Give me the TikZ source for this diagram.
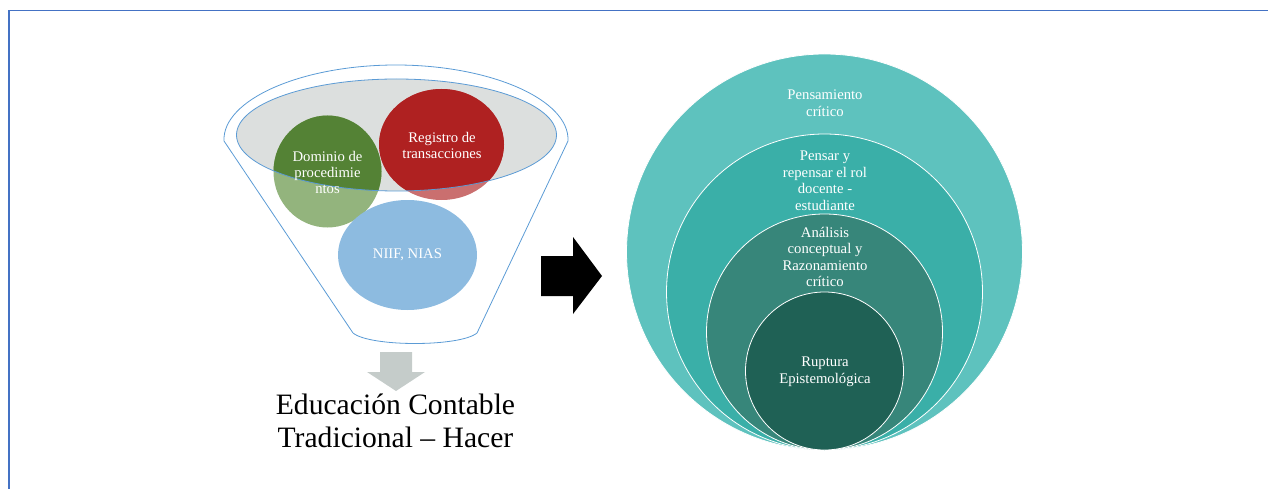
\documentclass[tikz,border=0pt]{standalone}
\usepackage{fontspec}
\setmainfont{Liberation Serif}
\usetikzlibrary{shapes.geometric}
\definecolor{framec}{RGB}{68,114,196}
\definecolor{funnelc}{RGB}{91,155,213}
\definecolor{greyfill}{RGB}{220,223,222}
\definecolor{gdark}{RGB}{84,130,53}
\definecolor{glight}{RGB}{147,180,125}
\definecolor{rdark}{RGB}{175,33,33}
\definecolor{rlight}{RGB}{202,111,111}
\definecolor{blight}{RGB}{141,187,224}
\definecolor{arrowgrey}{RGB}{197,204,202}
\definecolor{cA}{RGB}{94,194,190}
\definecolor{cB}{RGB}{58,175,168}
\definecolor{cC}{RGB}{55,134,122}
\definecolor{cD}{RGB}{31,97,85}
\tikzset{
  smalltxt/.style={text=white, align=center, font=\fontsize{14.7}{16}\selectfont, inner sep=0pt},
  ringtxt/.style={text=white, align=center, font=\fontsize{14.7}{16.5}\selectfont, inner sep=0pt},
  ring/.style={draw=white, line width=0.8},
}
\begin{document}
\begin{tikzpicture}[x=1pt,y=-1pt]
\useasboundingbox (0,0) rectangle (1268,489);
% frame
\draw[framec, line width=1.5] (9,489) -- (9,10.7) -- (1268,10.7);
% funnel: inner ellipse fill
\fill[greyfill] (396.5,135) ellipse [x radius=160, y radius=56];
% light circles
\fill[glight] (327.5,171.5) ellipse [x radius=54, y radius=56];
\fill[rlight] (441.5,144.5) ellipse [x radius=62.5, y radius=55.5];
\fill[blight] (407.5,255) ellipse [x radius=69.5, y radius=55];
% dark parts inside the ellipse
\begin{scope}
  \clip (396.5,135) ellipse [x radius=160, y radius=56];
  \fill[gdark] (327.5,171.5) ellipse [x radius=54, y radius=56];
  \fill[rdark] (441.5,144.5) ellipse [x radius=62.5, y radius=55.5];
\end{scope}
\draw[funnelc, line width=0.8] (396.5,135) ellipse [x radius=160, y radius=56];
% funnel outline
\draw[funnelc, line width=0.8] (353,333) -- (224,141)
  .. controls (222,100) and (301,65) .. (396,65)
  .. controls (491,65) and (570,100) .. (568,141)
  -- (477,333) .. controls (460,347) and (370,347) .. (353,333);
% funnel texts
\node[smalltxt] (dom) at (327.5,172) {Dominio de\\procedimie\\ntos};
\node[smalltxt] (reg) at (442,145) {Registro de\\transacciones};
\node[smalltxt] (niif) at (407.5,255) {NIIF, NIAS};
% grey down arrow
\fill[arrowgrey] (380,352) -- (412,352) -- (412,372) -- (425,372) -- (396,391)
  -- (367,372) -- (380,372) -- cycle;
\node[align=center, font=\fontsize{29.6}{33}\selectfont, inner sep=0pt] (edu) at (395.5,421) {Educación Contable\\Tradicional – Hacer};
% black right arrow
\fill[black] (541,256) -- (573,256) -- (573,237) -- (602,276) -- (573,314)
  -- (573,296) -- (541,296) -- cycle;
% concentric circles
\fill[cA, ring] (824.5,252) circle [radius=198];
\fill[cB, ring] (824.5,292) circle [radius=158];
\fill[cC, ring] (824.5,332) circle [radius=118];
\fill[cD, ring] (824.5,371) circle [radius=79];
\node[ringtxt] (pc) at (825,103) {Pensamiento\\crítico};
\node[ringtxt] (pr) at (825,181) {Pensar y\\repensar el rol\\docente -\\estudiante};
\node[ringtxt] (an) at (825,257) {Análisis\\conceptual y\\Razonamiento\\crítico};
\node[ringtxt] (ru) at (825,372) {Ruptura\\Epistemológica};
\end{tikzpicture}
\end{document}
